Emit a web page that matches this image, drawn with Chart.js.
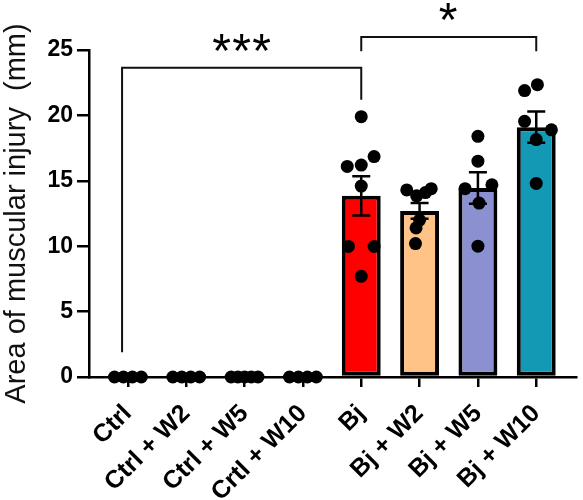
<!DOCTYPE html>
<html>
<head>
<meta charset="utf-8">
<script src="https://cdn.jsdelivr.net/npm/chart.js@4.4.1/dist/chart.umd.min.js"></script>
<style>
  body { margin: 0; background: #fff; }
</style>
</head>
<body>
<canvas id="injury" width="583" height="500"></canvas>
<script>
// groups on the x axis
const categories = ["Ctrl", "Ctrl + W2", "Ctrl + W5", "Crtl + W10", "Bj", "Bj + W2", "Bj + W5", "Bj + W10"]

// bar heights (mean) and SEM
const barMeans = [0, 0, 0, 0, 13.85, 12.7, 14.45, 19.1]
const barSem = [0, 0, 0, 0, 1.5, 0.6, 1.2, 1.2]
const barColors = ["#ffffff", "#ffffff", "#ffffff", "#ffffff", "#ff0000", "#ffc387", "#8b90d0", "#1399b4"]

// individual animals per group
const ptsCtrl = [0, 0, 0, 0]
const ptsCtrlW2 = [0, 0, 0, 0]
const ptsCtrlW5 = [0, 0, 0, 0, 0]
const ptsCrtlW10 = [0, 0, 0, 0]
const ptsBj = [19.9, 16.85, 16.2, 16.1, 14.6, 9.98, 9.98, 7.7]
const ptsBjW2 = [14.3, 13.85, 14.1, 14.4, 12.0, 11.4, 10.2]
const ptsBjW5 = [18.4, 16.5, 14.4, 14.7, 13.3, 10.0]
const ptsBjW10 = [21.9, 22.35, 19.55, 18.9, 18.15, 14.8]

// horizontal spread of the dots (in group units)
const jitCtrl = [-0.23, -0.077, 0.077, 0.23]
const jitCtrlW2 = [-0.23, -0.077, 0.077, 0.23]
const jitCtrlW5 = [-0.23, -0.115, 0, 0.115, 0.23]
const jitCrtlW10 = [-0.23, -0.077, 0.077, 0.23]
const jitBj = [0, 0.22, 0, -0.24, 0, -0.22, 0.22, 0]
const jitBjW2 = [-0.22, -0.05, 0.1, 0.2, 0, -0.06, -0.07]
const jitBjW5 = [0, 0, -0.22, 0.24, 0.02, 0]
const jitBjW10 = [-0.2, 0.02, -0.2, 0.26, 0, 0]

// significance brackets
const bracketFrom = [-0.1, 4]
const bracketTo = [4, 7]
const bracketLevel = [23.65, 26.0]
const bracketLeftEnd = [1.9, 24.9]
const bracketRightEnd = [21.2, 24.9]
const starLabels = ["***", "*"]
const starX = [1.95, 5.49]
const starY = [25.8, 28.2]

const allPts = [ptsCtrl, ptsCtrlW2, ptsCtrlW5, ptsCrtlW10, ptsBj, ptsBjW2, ptsBjW5, ptsBjW10]
const allJit = [jitCtrl, jitCtrlW2, jitCtrlW5, jitCrtlW10, jitBj, jitBjW2, jitBjW5, jitBjW10]

const dots = []
allPts.forEach((grp, i) => {
  grp.forEach((v, k) => dots.push({ x: i + allJit[i][k], y: v }))
})

const errorBars = {
  id: "errorBars",
  afterDatasetDraw(chart, args) {
    if (args.index !== 0) return
    const ctx = chart.ctx
    const xs = chart.scales.x, ys = chart.scales.y
    ctx.save()
    ctx.strokeStyle = "#000"
    ctx.lineWidth = 2.5
    barMeans.forEach((m, i) => {
      if (!barSem[i]) return
      const px = xs.getPixelForValue(i)
      const top = ys.getPixelForValue(m + barSem[i])
      const bot = ys.getPixelForValue(m - barSem[i])
      ctx.beginPath()
      ctx.moveTo(px, top); ctx.lineTo(px, bot)
      ctx.moveTo(px - 9, top); ctx.lineTo(px + 9, top)
      ctx.moveTo(px - 9, bot); ctx.lineTo(px + 9, bot)
      ctx.stroke()
    })
    ctx.restore()
  }
}

const brackets = {
  id: "brackets",
  afterDraw(chart) {
    const ctx = chart.ctx
    const xs = chart.scales.x, ys = chart.scales.y
    ctx.save()
    ctx.strokeStyle = "#111"
    ctx.lineWidth = 2
    bracketFrom.forEach((f, i) => {
      const x1 = xs.getPixelForValue(f), x2 = xs.getPixelForValue(bracketTo[i])
      const yl = ys.getPixelForValue(bracketLevel[i])
      ctx.beginPath()
      ctx.moveTo(x1, ys.getPixelForValue(bracketLeftEnd[i]))
      ctx.lineTo(x1, yl)
      ctx.lineTo(x2, yl)
      ctx.lineTo(x2, ys.getPixelForValue(bracketRightEnd[i]))
      ctx.stroke()
    })
    ctx.fillStyle = "#000"
    ctx.font = "48px 'Liberation Sans', Arial, sans-serif"
    ctx.textAlign = "center"
    ctx.textBaseline = "alphabetic"
    starLabels.forEach((s, i) => {
      const cx = xs.getPixelForValue(starX[i])
      const cy = ys.getPixelForValue(starY[i]) + 48 * 0.58
      const n = s.length
      for (let k = 0; k < n; k++) {
        ctx.fillText("*", cx + (k - (n - 1) / 2) * 20, cy)
      }
    })
    ctx.restore()
  }
}

new Chart(document.getElementById("injury"), {
  type: "bar",
  data: {
    datasets: [
      {
        type: "bar",
        data: barMeans.map((m, i) => ({ x: i, y: m })),
        backgroundColor: barColors,
        borderColor: "#000",
        borderWidth: 4,
        borderSkipped: false,
        barPercentage: 0.667,
        categoryPercentage: 1,
        order: 2
      },
      {
        type: "scatter",
        data: dots,
        backgroundColor: "#000",
        borderColor: "#000",
        borderWidth: 0,
        pointRadius: 6.5,
        clip: false,
        order: 1
      }
    ]
  },
  options: {
    responsive: false,
    animation: false,
    layout: { padding: { top: 50, right: 5, left: 0, bottom: 0 } },
    plugins: { legend: { display: false }, tooltip: { enabled: false } },
    scales: {
      x: {
        type: "linear",
        min: -0.667,
        max: 7.69,
        offset: false,
        afterBuildTicks: (axis) => { axis.ticks = categories.map((c, i) => ({ value: i })) },
        afterFit: (axis) => { axis.height = 123 },
        grid: { offset: false, drawOnChartArea: false, drawTicks: true, tickLength: 10, color: "#000", lineWidth: 2.5 },
        border: { display: true, color: "#000", width: 2.5 },
        ticks: {
          autoSkip: false,
          maxRotation: 45,
          minRotation: 45,
          padding: 12,
          color: "#000",
          font: { family: "'Liberation Sans', Arial, sans-serif", size: 25, weight: "bold" },
          callback: (v) => categories[v]
        }
      },
      y: {
        min: 0,
        max: 25,
        afterFit: (axis) => { axis.width = 89 },
        grid: { drawOnChartArea: false, drawTicks: true, tickLength: 12, color: "#000", lineWidth: 2.5 },
        border: { display: true, color: "#000", width: 2.5 },
        ticks: {
          stepSize: 5,
          padding: 4,
          color: "#000",
          font: { family: "'Liberation Sans', Arial, sans-serif", size: 23, weight: "bold" }
        },
        title: {
          display: true,
          text: "Area of muscular injury  (mm)",
          color: "#111",
          padding: 0,
          font: { family: "'Liberation Sans', Arial, sans-serif", size: 29 }
        }
      }
    }
  },
  plugins: [errorBars, brackets]
})
</script>
</body>
</html>
